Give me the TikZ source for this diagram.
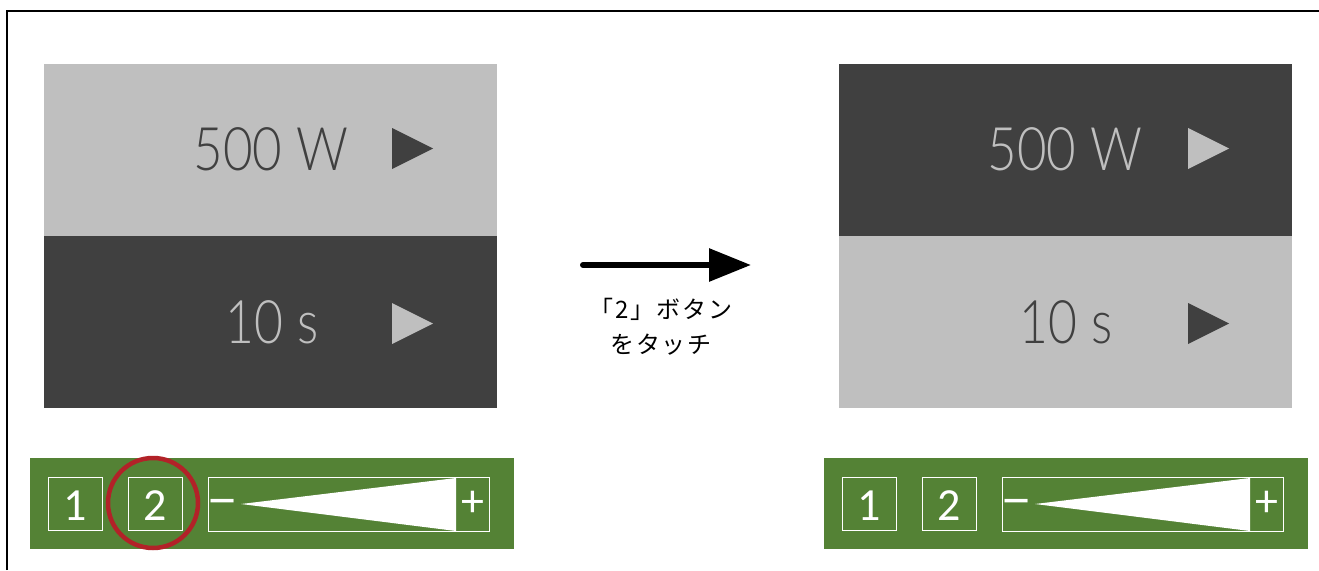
\documentclass[tikz,border=0pt]{standalone}
\usepackage{fontspec}
\usepackage{tikz}
\usetikzlibrary{arrows.meta}
\definecolor{panellight}{RGB}{191, 191, 191}
\definecolor{paneldark}{RGB}{64, 64, 64}
\definecolor{bargreen}{RGB}{84, 130, 53}
\definecolor{touchred}{RGB}{178, 34, 40}
\newfontfamily\panelfont{Lato Light}
\newfontfamily\btnfont{Carlito}
\newfontfamily\jpfont[LetterSpace=8]{Noto Sans CJK JP}

\begin{document}
\begin{tikzpicture}[x=1pt,y=-1pt,
    panel/.style={anchor=north west, inner sep=0pt, minimum width=453pt, minimum height=172pt},
    valtext/.style={anchor=base, inner sep=0pt, font=\panelfont\fontsize{60}{60}\selectfont},
    btnbox/.style={draw=white, line width=0.8pt, anchor=north west, inner sep=0pt, minimum width=54pt, minimum height=53pt},
    btntext/.style={anchor=base, inner sep=0pt, text=white, font=\btnfont\fontsize{46}{46}\selectfont}]
    \useasboundingbox (0,0) rectangle (1319,570);
    % frame
    \draw[line width=2pt] (7,570) -- (7,11) -- (1319,11);

    % screen before
    \node[panel, fill=panellight] (powerL) at (44,64) {};
    \node[panel, fill=paneldark] (timeL) at (44,236) {};
    \node[valtext, text=paneldark] (powertxtL) at (271,170) {\scalebox{0.85}[1]{500 W}};
    \node[valtext, text=panellight] (timetxtL) at (272,343) {\scalebox{0.83}[1]{10 s}};
    \fill[paneldark] (392,128) -- (433,148.5) -- (392,169) -- cycle;
    \fill[panellight] (392,303) -- (433,323.5) -- (392,344) -- cycle;

    % screen after
    \node[panel, fill=paneldark] (powerR) at (839,64) {};
    \node[panel, fill=panellight] (timeR) at (839,236) {};
    \node[valtext, text=panellight] (powertxtR) at (1065,170) {\scalebox{0.85}[1]{500 W}};
    \node[valtext, text=paneldark] (timetxtR) at (1066,343) {\scalebox{0.83}[1]{10 s}};
    \fill[panellight] (1188,128) -- (1229,148.5) -- (1188,169) -- cycle;
    \fill[paneldark] (1188,303) -- (1229,323.5) -- (1188,344) -- cycle;

    % control bars
    \foreach \ox/\nm in {30/L,824/R} {
        \begin{scope}[shift={(\ox,0)}]
            \node[anchor=north west, inner sep=0pt, minimum width=484pt, minimum height=91pt, fill=bargreen] (bar\nm) at (0,458) {};
            \node[btnbox] (one\nm) at (18,477) {};
            \node[btnbox] (two\nm) at (98,477) {};
            \node[btntext] at (45,520) {1};
            \node[btntext] at (125,520) {2};
            \node[draw=white, line width=0.8pt, anchor=north west, inner sep=0pt, minimum width=281pt, minimum height=54pt] (slider\nm) at (178,477) {};
            \fill[white] (211,504) -- (426,478) -- (426,531) -- cycle;
            \node[btntext, anchor=center] (minus\nm) at (193,508) {\scalebox{1.4}[1.2]{–}};
            \node[btntext, anchor=center] (plus\nm) at (443,504) {+};
        \end{scope}
    }
    \draw[touchred, line width=4.5pt] (153,503) circle (45);

    % arrow
    \coordinate (from) at (583,265);
    \coordinate (to) at (751,265);
    \draw[line width=6pt, line cap=round, -{Triangle[length=42pt,width=32pt]}] (from) -- (to);
    \node[font=\jpfont\fontsize{24}{24}\selectfont, inner sep=0pt] (labelA) at (661,309) {「2」ボタン};
    \node[font=\jpfont\fontsize{24}{24}\selectfont, inner sep=0pt] (labelB) at (661,345) {をタッチ};
\end{tikzpicture}
\end{document}
